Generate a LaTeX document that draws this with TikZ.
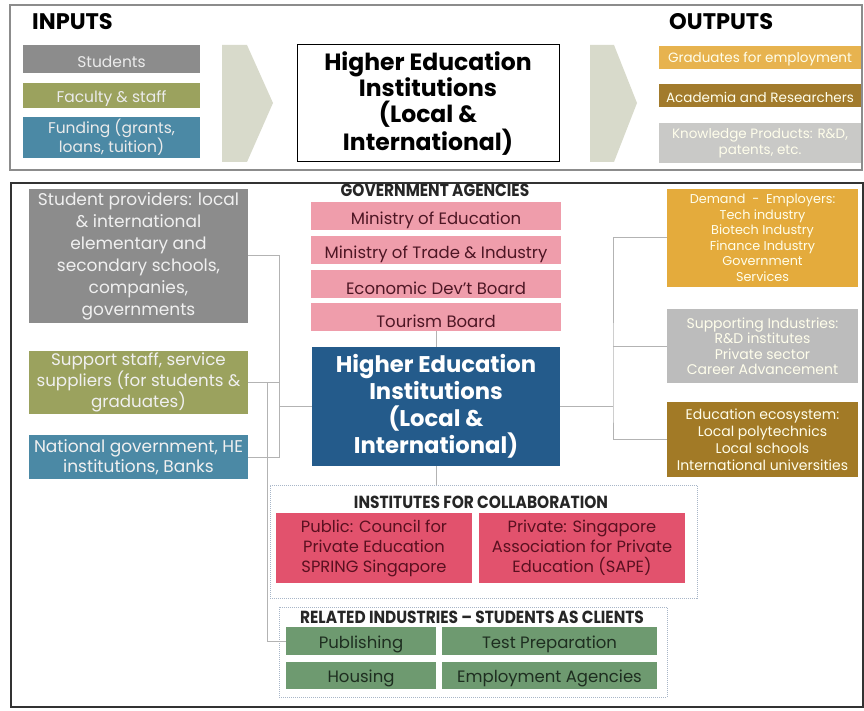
\documentclass[tikz,border=0pt]{standalone}
\usepackage{fontspec}
\setmainfont{Poppins}
\newfontfamily\narrowfont[FakeStretch=0.88]{Poppins}
\definecolor{inGray}{HTML}{8C8C8C}
\definecolor{inOlive}{HTML}{9BA25E}
\definecolor{inBlue}{HTML}{4B89A5}
\definecolor{chevGray}{HTML}{D8DACB}
\definecolor{outGold}{HTML}{E7B34F}
\definecolor{outBrown}{HTML}{A27B2C}
\definecolor{outLight}{HTML}{C9C9C7}
\definecolor{agencyPink}{HTML}{EF9DAB}
\definecolor{agencyText}{HTML}{4D1624}
\definecolor{heiBlue}{HTML}{245B8B}
\definecolor{demGold}{HTML}{E4AB3C}
\definecolor{suppGray}{HTML}{BCBCBC}
\definecolor{ecoBrown}{HTML}{A27A26}
\definecolor{collabRed}{HTML}{E2526D}
\definecolor{collabText}{HTML}{5A1020}
\definecolor{clientGreen}{HTML}{6E9A70}
\definecolor{clientText}{HTML}{1E2E20}
\definecolor{linkGray}{HTML}{B3B3B3}
\definecolor{dotBlue}{HTML}{A8B6C8}
\begin{document}
\begin{tikzpicture}[x=1pt,y=-1pt]
\tikzstyle{every node}+=[inner sep=0pt, align=center]
\tikzstyle{inbox}=[text=white!92!black, font=\fontsize{15.5}{19}\selectfont, minimum width=177pt, execute at begin node={\rule{0pt}{1.1em}}]
\tikzstyle{outbox}=[text=white!92!yellow, font=\fontsize{13.5}{16}\selectfont, minimum width=202pt, execute at begin node={\rule{0pt}{1em}}]
\tikzstyle{sidebox}=[text=white!94!black, minimum width=219pt]
\tikzstyle{rightbox}=[text=white!92!yellow, minimum width=191pt]
\tikzstyle{agency}=[fill=agencyPink, text=agencyText, font=\fontsize{16.5}{18}\selectfont, minimum width=250pt, minimum height=28pt, execute at begin node={\rule{0pt}{1.25em}}]
\tikzstyle{collab}=[fill=collabRed, text=collabText, font=\fontsize{16.3}{20}\selectfont, minimum height=70pt, execute at begin node={\rule{0pt}{1.1em}}]
\tikzstyle{client}=[fill=clientGreen, text=clientText, font=\fontsize{16.5}{18}\selectfont, minimum height=27.5pt, execute at begin node={\rule{0pt}{1.12em}}]
\tikzstyle{frame}=[draw=dotBlue, densely dotted, line width=1pt]
\tikzstyle{caption}=[font=\narrowfont\fontsize{17.5}{19}\selectfont\bfseries, text=black!85]
\tikzstyle{heading}=[font=\fontsize{22.5}{25}\selectfont\bfseries]
\tikzstyle{link}=[draw=linkGray, line width=1pt]
\useasboundingbox (0,0) rectangle (864,711);
\draw [black!45, line width=2.2pt] (10,5) rectangle (862,170);
\node [heading, anchor=west] (inputs) at (32,22) {INPUTS};
\node [inbox, fill=inGray, minimum height=28pt] (students) at (111.5,59) {Students};
\node [inbox, fill=inOlive, minimum height=25pt] (faculty) at (111.5,95.5) {Faculty \& staff};
\node [inbox, fill=inBlue, minimum height=41pt] (funding) at (111.5,137.5) {Funding (grants,\\loans, tuition)};
\fill [chevGray] (222,45) -- (247,45) -- (273,103) -- (247,162) -- (222,162) -- cycle;
\node [draw=black, line width=1pt, minimum width=262pt, minimum height=117pt, font=\fontsize{23.5}{26}\selectfont\bfseries, execute at begin node={\rule{0pt}{1.5em}}] (heitop) at (428,103.5) {Higher Education\\Institutions\\(Local \&\\International)};
\fill [chevGray] (590,45) -- (614,45) -- (637,103) -- (614,162) -- (590,162) -- cycle;
\node [heading, anchor=west] (outputs) at (669,22) {OUTPUTS};
\node [outbox, fill=outGold, minimum height=23pt] (grads) at (760,57.5) {Graduates for employment};
\node [outbox, fill=outBrown, minimum height=23pt] (academia) at (760,95.5) {Academia and Researchers};
\node [outbox, fill=outLight, minimum height=40pt] (knowledge) at (760,143) {Knowledge Products: R\&D,\\patents, etc.};
\draw [black!80, line width=2pt] (11,183) rectangle (863,707);
\node [sidebox, fill=inGray, minimum height=134pt, font=\fontsize{17}{22}\selectfont] (provider) at (138.5,256) {Student providers: local\\\& international\\elementary and\\secondary schools,\\companies,\\governments};
\node [sidebox, fill=inOlive, minimum height=63pt, font=\fontsize{16.7}{21}\selectfont] (staff) at (138.5,382.5) {Support staff, service\\suppliers (for students \&\\graduates)};
\node [sidebox, fill=inBlue, minimum height=44pt, font=\fontsize{17}{20}\selectfont] (natgov) at (138.5,457) {National government, HE\\institutions, Banks};
\node [caption] (govlabel) at (435,190) {GOVERNMENT AGENCIES};
\node [agency] (moe) at (436,216.5) {Ministry of Education};
\node [agency] (mti) at (436,250) {Ministry of Trade \& Industry};
\node [agency] (edb) at (436,284) {Economic Dev't Board};
\node [agency] (tourism) at (436,317) {Tourism Board};
\node [fill=heiBlue, text=white, minimum width=248pt, minimum height=119pt, font=\fontsize{22.7}{27}\selectfont\bfseries, execute at begin node={\rule{0pt}{1.3em}}] (hei) at (436,406.5) {Higher Education\\Institutions\\(Local \&\\International)};
\node [rightbox, fill=demGold, minimum height=98pt, font=\fontsize{12.8}{15.5}\selectfont] (demand) at (762.5,238) {Demand \ - \ Employers:\\Tech industry\\Biotech Industry\\Finance Industry\\Government\\Services};
\node [rightbox, fill=suppGray, minimum height=74pt, font=\fontsize{14}{15.5}\selectfont] (supporting) at (762.5,346) {Supporting Industries:\\R\&D institutes\\Private sector\\Career Advancement};
\node [rightbox, fill=ecoBrown, minimum height=75pt, font=\fontsize{14}{17}\selectfont] (ecosystem) at (762.5,439.5) {Education ecosystem:\\Local polytechnics\\Local schools\\International universities};
\node [frame, minimum width=427pt, minimum height=113pt] (institutes) at (483.5,541.5) {};
\node [caption] (instlabel) at (481,502) {INSTITUTES FOR COLLABORATION};
\node [collab, minimum width=196pt] (public) at (374,548) {Public: Council for\\Private Education\\SPRING Singapore};
\node [collab, minimum width=206pt] (private) at (582,548) {Private: Singapore\\Association for Private\\Education (SAPE)};
\node [frame, minimum width=388pt, minimum height=90pt] (related) at (473,652) {};
\node [caption] (rellabel) at (472,617) {RELATED INDUSTRIES – STUDENTS AS CLIENTS};
\node [client, minimum width=150pt] (publishing) at (361,641) {Publishing};
\node [client, minimum width=215pt] (testprep) at (549.5,641) {Test Preparation};
\node [client, minimum width=150pt] (housing) at (361,675.5) {Housing};
\node [client, minimum width=215pt] (employment) at (549.5,675.5) {Employment Agencies};
\coordinate (lbus) at (279,406.5);
\coordinate (sbus) at (267,382.5);
\coordinate (rbus) at (613,406.5);
\draw [link] (provider.east) -- (lbus |- provider.east) -- (lbus |- natgov.east) -- (natgov.east);
\draw [link] (lbus) -- (hei.west);
\draw [link] (staff.east) -- (lbus |- staff.east);
\draw [link] (sbus) |- (publishing.west);
\draw [link] (hei.east) -- (rbus);
\draw [link] (demand.west) -| (rbus) |- (ecosystem.west);
\draw [link] (supporting.west) -- (rbus |- supporting.west);
\draw [link] (tourism.south) -- (hei.north);
\draw [link] (hei.south) -- (hei.south |- institutes.north);
\end{tikzpicture}
\end{document}
